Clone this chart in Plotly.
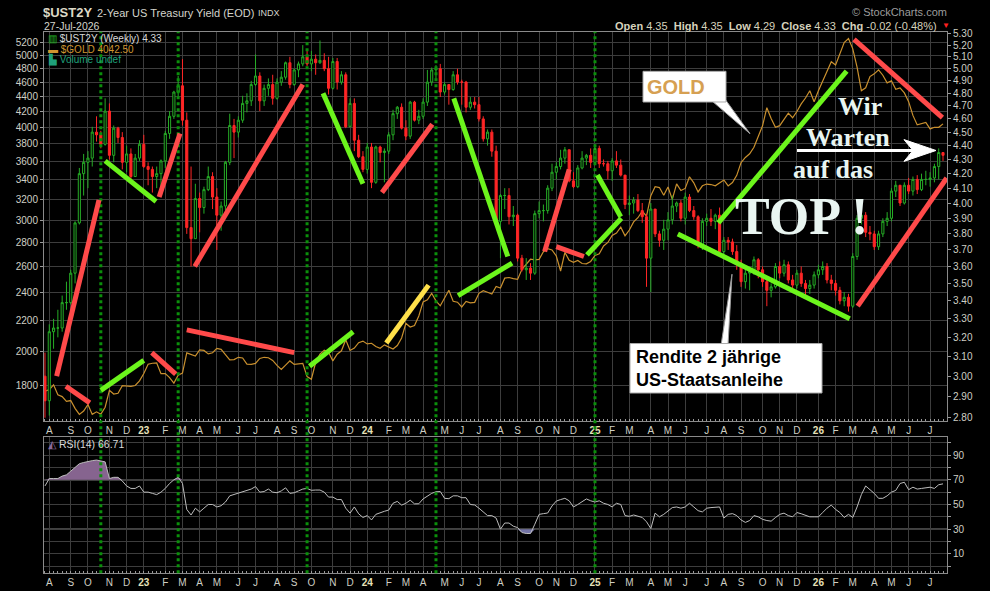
import plotly.graph_objects as go
import pandas as pd
import numpy as np

# ---------------- data (weekly bars, Monday dates) ----------------
first_open = 3.00
closes = [
    2.88, 3.23, 3.25, 3.25, 3.39, 3.39, 3.56, 3.87, 4.20, 4.28,
    4.31, 4.50, 4.48, 4.41, 4.66, 4.33, 4.53, 4.46, 4.28, 4.34,
    4.18, 4.31, 4.41, 4.25, 4.23, 4.18, 4.20, 4.29, 4.49, 4.62,
    4.81, 4.86, 4.59, 3.84, 3.77, 4.03, 3.97, 4.09, 4.18, 4.04,
    3.92, 3.98, 4.28, 4.55, 4.50, 4.59, 4.72, 4.74, 4.87, 4.94,
    4.74, 4.84, 4.87, 4.76, 4.89, 4.93, 5.05, 4.87, 4.99, 5.04,
    5.10, 5.04, 5.08, 5.05, 5.07, 5.00, 4.84, 5.06, 4.89, 4.95,
    4.54, 4.72, 4.44, 4.32, 4.23, 4.39, 4.14, 4.39, 4.35, 4.36,
    4.48, 4.64, 4.69, 4.53, 4.47, 4.73, 4.59, 4.62, 4.73, 4.89,
    4.99, 5.00, 4.81, 4.87, 4.83, 4.95, 4.89, 4.89, 4.69, 4.73,
    4.71, 4.60, 4.45, 4.50, 4.36, 3.88, 4.05, 4.05, 3.91, 3.92,
    3.65, 3.58, 3.59, 3.56, 3.93, 3.95, 3.95, 4.10, 4.21, 4.25,
    4.31, 4.37, 4.15, 4.11, 4.24, 4.31, 4.33, 4.28, 4.38, 4.27,
    4.27, 4.22, 4.29, 4.26, 4.19, 3.99, 4.00, 4.02, 3.95, 3.91,
    3.65, 3.96, 3.80, 3.76, 3.83, 3.89, 3.98, 4.00, 3.90, 4.04,
    3.95, 3.91, 3.73, 3.88, 3.90, 3.88, 3.92, 3.69, 3.76, 3.75,
    3.69, 3.62, 3.51, 3.56, 3.57, 3.64, 3.58, 3.51, 3.46, 3.48,
    3.60, 3.56, 3.61, 3.52, 3.49, 3.56, 3.50, 3.47, 3.49, 3.55,
    3.58, 3.60, 3.52, 3.50, 3.46, 3.40, 3.42, 3.37, 3.66, 3.90,
    3.92, 3.81, 3.80, 3.72, 3.80, 3.88, 3.90, 4.08, 4.12, 4.00,
    4.12, 4.08, 4.16, 4.09, 4.16, 4.16, 4.17, 4.25, 4.35, 4.33,
]
highs = [
    3.12, 3.27, 3.30, 3.35, 3.43, 3.51, 3.58, 3.88, 4.24, 4.34,
    4.36, 4.54, 4.62, 4.51, 4.76, 4.72, 4.55, 4.54, 4.50, 4.40,
    4.38, 4.34, 4.44, 4.48, 4.28, 4.25, 4.25, 4.30, 4.51, 4.66,
    4.82, 4.94, 5.08, 4.65, 4.25, 4.13, 4.07, 4.11, 4.25, 4.21,
    4.10, 4.01, 4.29, 4.64, 4.60, 4.62, 4.78, 4.80, 4.90, 5.12,
    4.97, 4.87, 4.92, 4.95, 4.92, 4.98, 5.06, 5.10, 5.00, 5.06,
    5.20, 5.16, 5.15, 5.12, 5.24, 5.13, 5.10, 5.09, 5.09, 4.98,
    4.97, 4.76, 4.76, 4.48, 4.36, 4.42, 4.42, 4.40, 4.40, 4.38,
    4.50, 4.67, 4.70, 4.72, 4.59, 4.74, 4.74, 4.67, 4.76, 4.99,
    5.01, 5.03, 5.04, 4.89, 4.87, 4.98, 5.00, 4.91, 4.90, 4.77,
    4.77, 4.77, 4.62, 4.52, 4.52, 4.40, 4.06, 4.10, 4.10, 3.98,
    3.93, 3.67, 3.65, 3.62, 3.95, 4.01, 3.99, 4.12, 4.27, 4.28,
    4.37, 4.39, 4.37, 4.21, 4.26, 4.36, 4.34, 4.38, 4.41, 4.40,
    4.30, 4.29, 4.31, 4.36, 4.30, 4.19, 4.05, 4.04, 4.06, 4.00,
    3.93, 4.00, 3.96, 3.82, 3.89, 3.94, 4.05, 4.01, 4.02, 4.07,
    4.06, 3.98, 3.92, 3.90, 3.93, 3.96, 3.93, 3.97, 3.78, 3.78,
    3.77, 3.73, 3.64, 3.58, 3.59, 3.66, 3.65, 3.60, 3.52, 3.50,
    3.62, 3.63, 3.64, 3.63, 3.55, 3.58, 3.60, 3.52, 3.52, 3.57,
    3.61, 3.63, 3.62, 3.55, 3.52, 3.48, 3.45, 3.44, 3.68, 3.92,
    4.00, 3.94, 3.85, 3.82, 3.82, 3.90, 3.94, 4.10, 4.15, 4.12,
    4.14, 4.17, 4.18, 4.19, 4.20, 4.22, 4.21, 4.27, 4.38, 4.35,
]
lows = [
    2.80, 2.81, 3.14, 3.20, 3.23, 3.35, 3.38, 3.50, 3.86, 4.05,
    4.10, 4.25, 4.43, 4.38, 4.40, 4.30, 4.28, 4.42, 4.23, 4.21,
    4.16, 4.18, 4.29, 4.24, 4.12, 4.07, 4.10, 4.08, 4.24, 4.45,
    4.60, 4.77, 4.55, 3.80, 3.60, 3.77, 3.81, 3.93, 4.08, 3.96,
    3.70, 3.82, 3.95, 4.26, 4.31, 4.46, 4.57, 4.65, 4.70, 4.86,
    4.66, 4.70, 4.78, 4.71, 4.75, 4.86, 4.91, 4.84, 4.86, 4.93,
    5.02, 5.02, 4.98, 4.95, 5.04, 4.98, 4.79, 4.83, 4.83, 4.87,
    4.53, 4.55, 4.36, 4.31, 4.21, 4.20, 4.10, 4.13, 4.28, 4.14,
    4.34, 4.44, 4.60, 4.52, 4.44, 4.45, 4.58, 4.56, 4.60, 4.70,
    4.86, 4.90, 4.77, 4.79, 4.71, 4.82, 4.87, 4.71, 4.65, 4.67,
    4.68, 4.58, 4.43, 4.40, 4.32, 3.87, 3.65, 3.96, 3.86, 3.85,
    3.63, 3.57, 3.52, 3.52, 3.55, 3.90, 3.88, 3.93, 4.08, 4.16,
    4.23, 4.27, 4.14, 4.10, 4.10, 4.23, 4.26, 4.24, 4.26, 4.24,
    4.25, 4.16, 4.15, 4.24, 4.18, 3.96, 3.92, 3.93, 3.94, 3.87,
    3.48, 3.45, 3.78, 3.72, 3.70, 3.76, 3.86, 3.94, 3.88, 3.86,
    3.94, 3.89, 3.71, 3.70, 3.85, 3.85, 3.83, 3.67, 3.67, 3.70,
    3.67, 3.58, 3.48, 3.47, 3.46, 3.55, 3.53, 3.48, 3.37, 3.42,
    3.47, 3.53, 3.54, 3.50, 3.45, 3.47, 3.48, 3.42, 3.44, 3.47,
    3.53, 3.55, 3.50, 3.46, 3.43, 3.38, 3.37, 3.34, 3.36, 3.64,
    3.86, 3.78, 3.76, 3.70, 3.70, 3.78, 3.85, 3.88, 4.04, 3.98,
    3.99, 4.06, 4.05, 4.06, 4.08, 4.12, 4.11, 4.14, 4.16, 4.29,
]
gold = [
    1766, 1775, 1802, 1747, 1737, 1712, 1716, 1675, 1644, 1661,
    1695, 1644, 1657, 1645, 1681, 1771, 1751, 1755, 1797, 1797,
    1793, 1798, 1824, 1866, 1920, 1926, 1928, 1865, 1865, 1842,
    1811, 1856, 1868, 1989, 1978, 1969, 2007, 2004, 1983, 1990,
    2017, 2011, 1978, 1946, 1948, 1962, 1958, 1921, 1919, 1925,
    1955, 1962, 1959, 1943, 1913, 1889, 1915, 1940, 1919, 1924,
    1925, 1848, 1833, 1932, 1981, 2006, 1993, 1940, 1981, 2002,
    2072, 2004, 2019, 2053, 2063, 2045, 2049, 2029, 2018, 2039,
    2024, 2013, 2035, 2083, 2179, 2155, 2165, 2230, 2329, 2344,
    2392, 2337, 2301, 2360, 2415, 2334, 2327, 2293, 2333, 2322,
    2326, 2392, 2411, 2400, 2387, 2443, 2431, 2507, 2512, 2503,
    2497, 2577, 2622, 2658, 2653, 2657, 2721, 2747, 2736, 2685,
    2563, 2715, 2650, 2633, 2648, 2623, 2621, 2640, 2690, 2703,
    2770, 2800, 2861, 2883, 2936, 2858, 2910, 2984, 3023, 3084,
    3037, 3237, 3327, 3319, 3240, 3325, 3200, 3357, 3289, 3310,
    3432, 3368, 3274, 3337, 3355, 3350, 3337, 3363, 3398, 3336,
    3371, 3447, 3586, 3643, 3685, 3760, 3886, 4018, 4250, 4110,
    4000, 4020, 4100, 4180, 4120, 4200, 4300, 4380, 4480, 4330,
    4480, 4620, 4760, 4900, 4850, 5020, 5200, 5265, 5100, 4820,
    4480, 4520, 4680, 4720, 4780, 4700, 4590, 4620, 4500, 4520,
    4450, 4330, 4150, 4030, 4050, 4060, 3980, 4000, 4000, 4042.5,
]
rsi = [
    65, 71, 71, 71, 73, 74, 77, 80, 83, 84,
    85, 85.5, 86, 85, 84.5, 71, 72, 72, 69, 65,
    63, 63, 65, 60, 60, 59, 58, 60, 63, 67,
    70, 72, 67, 46, 41.5, 47, 44, 47, 50, 50,
    48, 49, 52, 57, 58, 59, 60, 61, 62.5, 64.5,
    60, 60.5, 62.5, 60, 59.5, 61, 63.5, 59, 59.5, 61,
    62.5, 63, 61.5, 61.7, 61.7, 60, 56, 56, 54, 54,
    47, 43, 48, 42.5, 39.5, 41, 37.5, 42, 43.4, 44.5,
    45.5, 51, 52.5, 49.5, 51, 53.5, 50.5, 50.6, 54.5, 57,
    59, 60.3, 60.5, 55, 54.7, 57, 57, 55.5, 55.5, 50,
    49.6, 47, 44, 41, 41, 39, 30, 35, 35, 32.4,
    31.3, 27.3, 26.5, 26.5, 34, 42, 42.6, 43.1, 48.8, 52.8,
    54, 55, 53, 48, 50, 52, 54.5, 53, 52, 53,
    51, 50, 48, 51, 50, 41, 40.4, 41.5, 40.7, 39.5,
    36, 30.5, 43, 40, 42, 45, 47.5, 48, 47, 48,
    51, 48, 45, 44, 47, 47.5, 48, 48, 39, 42,
    42.6, 41, 37.5, 35.5, 37, 41, 40, 38, 37, 36.5,
    39.4, 42, 43, 41, 40, 43.5, 42.5, 41, 40, 40,
    40, 43.5, 47, 49.5, 46, 43.5, 39.5, 42, 39.5, 48,
    58, 65, 62, 59, 55, 55, 57, 60, 61.4, 67,
    68, 62, 64, 62.5, 63, 63.5, 64, 63, 66, 66.71,
]
gold_ticks = [1800, 2000, 2200, 2400, 2600, 2800, 3000, 3200, 3400, 3600,
              3800, 4000, 4200, 4400, 4600, 4800, 5000, 5200]
yield_ticks = [2.8, 2.9, 3.0, 3.1, 3.2, 3.3, 3.4, 3.5, 3.6, 3.7, 3.8, 3.9, 4.0,
               4.1, 4.2, 4.3, 4.4, 4.5, 4.6, 4.7, 4.8, 4.9, 5.0, 5.1, 5.2, 5.3]
rsi_ticks = [0, 10, 20, 30, 40, 50, 60, 70, 80, 90, 100]
rsi_labels = ["", "10", "", "30", "", "50", "", "70", "", "90", ""]
signal_dates = ["2022-10-24", "2023-02-27", "2023-09-25", "2024-04-22", "2025-01-06"]

RED, GREEN, YELLOW = "#ff4a4a", "#6cf51c", "#ffe04a"
trend_lines = [
    ("2022-08-13", 3.00, "2022-10-21", 4.02, RED),
    ("2022-08-28", 2.95, "2022-10-06", 2.87, RED),
    ("2022-10-24", 2.93, "2023-01-02", 3.08, GREEN),
    ("2023-01-15", 3.12, "2023-02-23", 3.01, RED),
    ("2022-10-31", 4.29, "2023-01-22", 4.01, GREEN),
    ("2023-01-27", 4.04, "2023-03-02", 4.49, RED),
    ("2023-03-26", 3.60, "2023-09-18", 4.87, RED),
    ("2023-03-13", 3.24, "2023-09-04", 3.12, RED),
    ("2023-10-21", 4.80, "2023-12-25", 4.13, GREEN),
    ("2024-01-25", 4.07, "2024-04-16", 4.56, RED),
    ("2023-09-29", 3.05, "2023-12-09", 3.23, GREEN),
    ("2024-02-01", 3.17, "2024-04-10", 3.49, YELLOW),
    ("2024-05-21", 4.76, "2024-08-17", 3.66, GREEN),
    ("2024-05-28", 3.43, "2024-08-24", 3.62, GREEN),
    ("2024-10-16", 3.69, "2024-11-25", 4.23, RED),
    ("2024-11-04", 3.72, "2024-12-19", 3.66, RED),
    ("2024-12-24", 3.67, "2025-02-18", 3.90, GREEN),
    ("2025-01-10", 4.19, "2025-02-17", 3.91, GREEN),
    ("2025-05-21", 3.80, "2026-02-25", 3.30, GREEN),
    ("2025-07-26", 3.87, "2026-02-20", 4.98, GREEN),
    ("2026-03-04", 5.25, "2026-07-26", 4.61, RED),
    ("2026-03-10", 3.37, "2026-08-02", 4.17, RED),
]

# ---------------- derived series ----------------
dates = pd.date_range("2022-07-25", periods=len(closes), freq="7D")
opens = [first_open] + closes[:-1]
rsi_arr = np.array(rsi, dtype=float)

tickvals, ticktext = [], []
prev_m = dates[0].month
for d in dates:
    if d.month != prev_m:
        tickvals.append(d)
        if d.month == 1:
            ticktext.append(f"<b><span style='color:#e6e0b8'>{d.year % 100:02d}</span></b>")
        else:
            ticktext.append("JFMAMJJASOND"[d.month - 1])
    prev_m = d.month

# ---------------- layout geometry (pixels -> paper) ----------------
W, H = 990, 591
def px(x): return x / W
def py(y): return 1 - y / H

XL, XR = 44, 947
MAIN_T, MAIN_B = 28, 421
RSI_T, RSI_B = 437, 575
FONT = "Liberation Sans"
TXT = "#cfcfc4"
GRID = "#3d3d3d"
FRAME = "#8a8a8a"

fig = go.Figure()

# gold line (left log axis)
fig.add_trace(go.Scatter(x=dates, y=gold, mode="lines", xaxis="x", yaxis="y",
                         line=dict(color="#c9902e", width=1.2), hoverinfo="skip"))
# UST2Y candles (right log axis)
fig.add_trace(go.Candlestick(
    x=dates, open=opens, high=highs, low=lows, close=closes,
    xaxis="x", yaxis="y2", whiskerwidth=0,
    increasing=dict(line=dict(color="#26ad26", width=1), fillcolor="#000000"),
    decreasing=dict(line=dict(color="#ff2626", width=1), fillcolor="#ff2626"),
))

# RSI panel
fig.add_trace(go.Scatter(x=dates, y=np.full(len(rsi_arr), 70.0), xaxis="x2", yaxis="y3",
                         mode="lines", line=dict(width=0), hoverinfo="skip"))
fig.add_trace(go.Scatter(x=dates, y=np.maximum(rsi_arr, 70), xaxis="x2", yaxis="y3",
                         mode="lines", line=dict(width=0), fill="tonexty",
                         fillcolor="#86648f", hoverinfo="skip"))
fig.add_trace(go.Scatter(x=dates, y=np.full(len(rsi_arr), 30.0), xaxis="x2", yaxis="y3",
                         mode="lines", line=dict(width=0), hoverinfo="skip"))
fig.add_trace(go.Scatter(x=dates, y=np.minimum(rsi_arr, 30), xaxis="x2", yaxis="y3",
                         mode="lines", line=dict(width=0), fill="tonexty",
                         fillcolor="#7474a6", hoverinfo="skip"))
fig.add_trace(go.Scatter(x=dates, y=rsi_arr, xaxis="x2", yaxis="y3", mode="lines",
                         line=dict(color="#bdbdbd", width=1), hoverinfo="skip"))

x_range = ["2022-07-23 10:00", "2026-08-02 12:00"]
xcommon = dict(
    range=x_range, tickvals=tickvals, ticktext=ticktext, tickangle=0,
    tickfont=dict(family=FONT, size=10, color=TXT),
    showgrid=True, gridcolor=GRID, gridwidth=1,
    showline=True, linecolor=FRAME, linewidth=1, mirror=True,
    ticks="", zeroline=False, domain=[px(XL), px(XR)],
    minor=dict(ticks="inside", ticklen=2, tickcolor="#9a9a9a",
               dtick=7 * 86400000, tick0="2022-07-25", showgrid=False),
)

shapes = []
# RSI level lines
for lvl, dash, col in [(70, "solid", "#d6d6d6"), (30, "solid", "#d6d6d6"), (50, "dashdot", "#b8b8b8")]:
    shapes.append(dict(type="line", xref="x2 domain", yref="y3", x0=0, x1=1, y0=lvl, y1=lvl,
                       line=dict(color=col, width=1, dash=dash), layer="below"))
# signal verticals
for sd in signal_dates:
    shapes.append(dict(type="line", xref="x", yref="paper", x0=sd, x1=sd,
                       y0=py(RSI_B), y1=py(MAIN_T),
                       line=dict(color="#0b8f0b", width=3, dash="dot"), layer="above"))
# trend lines
for d0, v0, d1, v1, col in trend_lines:
    shapes.append(dict(type="line", xref="x", yref="y2", x0=d0, y0=v0, x1=d1, y1=v1,
                       line=dict(color=col, width=5), layer="above"))

def ppath(pts):
    return "M " + " L ".join(f"{px(a):.5f},{py(b):.5f}" for a, b in pts) + " Z"

# callout boxes + pointers
shapes.append(dict(type="path", xref="paper", yref="paper",
                   path=ppath([(712, 98), (750, 131), (725, 96)]),
                   fillcolor="white", line=dict(color="#9a9a9a", width=1), layer="above"))
shapes.append(dict(type="rect", xref="paper", yref="paper", x0=px(643), x1=px(726),
                   y0=py(99), y1=py(68), fillcolor="white",
                   line=dict(color="#aaaaaa", width=1), layer="above"))
shapes.append(dict(type="path", xref="paper", yref="paper",
                   path=ppath([(721, 345), (732, 273), (728, 345)]),
                   fillcolor="white", line=dict(color="#9a9a9a", width=1), layer="above"))
shapes.append(dict(type="rect", xref="paper", yref="paper", x0=px(630), x1=px(822),
                   y0=py(393), y1=py(343), fillcolor="white",
                   line=dict(color="#aaaaaa", width=1), layer="above"))
# white arrow
shapes.append(dict(type="line", xref="paper", yref="paper", x0=px(797), x1=px(915),
                   y0=py(148), y1=py(148), line=dict(color="white", width=3), layer="above"))
shapes.append(dict(type="path", xref="paper", yref="paper",
                   path=ppath([(904, 137), (936, 148), (904, 159), (913, 148)]),
                   fillcolor="white", line=dict(color="white", width=1), layer="above"))

ann = []
def text(x, y, s, size=11, color=TXT, xanchor="left", family=FONT, yanchor="middle", align="left"):
    ann.append(dict(xref="paper", yref="paper", x=px(x), y=py(y), text=s, showarrow=False,
                    xanchor=xanchor, yanchor=yanchor, align=align,
                    font=dict(family=family, size=size, color=color)))

# header
text(41, 9, "<b>$UST2Y</b>", size=13, color="#dcd8c6")
text(95, 9, "2-Year US Treasury Yield (EOD)", size=11, color="#d4d4cc")
text(256, 9, "INDX", size=9, color="#d4d4cc")
text(42, 22, "27-Jul-2026", size=10.5, color="#d4d4cc")
text(949, 8, "© StockCharts.com", size=11, color="#9c9c9c", xanchor="right")
text(939, 22, "<b>Open</b> 4.35  <b>High</b> 4.35  <b>Low</b> 4.29  <b>Close</b> 4.33  "
              "<b>Chg</b> -0.02 (-0.48%)", size=11, color="#d6d2bc", xanchor="right")
text(940, 22, "▼", size=8, color="#ff2020")
# legend
text(46, 35, "<span style='color:#22b022'>▥</span> $UST2Y (Weekly) 4.33", size=10, color="#d8d8d8")
text(46, 45.5, "<span style='color:#d09530'>▬</span> $GOLD 4042.50", size=10, color="#d09530")
text(46, 56, "▙ Volume undef", size=10, color="#1fa07a")
text(46, 445, "<span style='color:#8a6a9a'>◭</span> RSI(14) 66.71", size=10.5, color="#d8d8d8")
# callouts
text(676, 84, "<b>GOLD</b>", size=20, color="#d6a052", xanchor="center")
text(634, 368, "<b>Rendite 2 jährige<br>US-Staatsanleihe</b>", size=18, color="#000000")
# big message
SERIF = "Liberation Serif"
MSG = "#e9f5f1"
text(860, 104, "<b>Wir</b>", size=26, color=MSG, xanchor="center", family=SERIF)
text(848, 135, "<b>Warten</b>", size=26, color=MSG, xanchor="center", family=SERIF)
text(833, 167, "<b>auf das</b>", size=26, color=MSG, xanchor="center", family=SERIF)
text(801, 215, "<b>TOP !</b>", size=52, color=MSG, xanchor="center", family=SERIF)

fig.update_layout(
    width=W, height=H, margin=dict(l=0, r=0, t=0, b=0),
    paper_bgcolor="#000000", plot_bgcolor="#000000",
    showlegend=False, hovermode=False,
    font=dict(family=FONT, color=TXT),
    xaxis=dict(anchor="y", rangeslider=dict(visible=False), **xcommon),
    xaxis2=dict(anchor="y3", matches="x", rangeslider=dict(visible=False), **xcommon),
    yaxis=dict(domain=[py(MAIN_B), py(MAIN_T)], type="log",
               range=[np.log10(1612), np.log10(5378)], side="left", anchor="x",
               tickvals=gold_ticks, ticktext=[str(v) for v in gold_ticks],
               ticks="outside", ticklen=3, tickcolor="#9a9a9a",
               tickfont=dict(family=FONT, size=10, color=TXT),
               showgrid=True, gridcolor=GRID, zeroline=False,
               showline=True, linecolor=FRAME, mirror=True),
    yaxis2=dict(overlaying="y", side="right", anchor="x", type="log",
                range=[np.log10(2.786), np.log10(5.317)],
                tickvals=yield_ticks, ticktext=[f"{v:.2f}" for v in yield_ticks],
                ticks="outside", ticklen=3, tickcolor="#9a9a9a",
                tickfont=dict(family=FONT, size=10, color=TXT),
                showgrid=False, zeroline=False, showline=True, linecolor=FRAME),
    yaxis3=dict(domain=[py(RSI_B), py(RSI_T)], anchor="x2", side="right",
                range=[-5.6, 105], tickvals=rsi_ticks, ticktext=rsi_labels,
                ticks="outside", ticklen=3, tickcolor="#9a9a9a",
                tickfont=dict(family=FONT, size=10, color=TXT),
                showgrid=True, gridcolor=GRID, zeroline=False,
                showline=True, linecolor=FRAME, mirror=True),
    shapes=shapes, annotations=ann,
)

page_fix = ("document.body.style.margin='0';document.body.style.padding='0';"
            "document.body.style.overflow='hidden';document.body.style.background='#000';")
fig.write_html("out.html", config={"displayModeBar": False}, post_script=page_fix)
